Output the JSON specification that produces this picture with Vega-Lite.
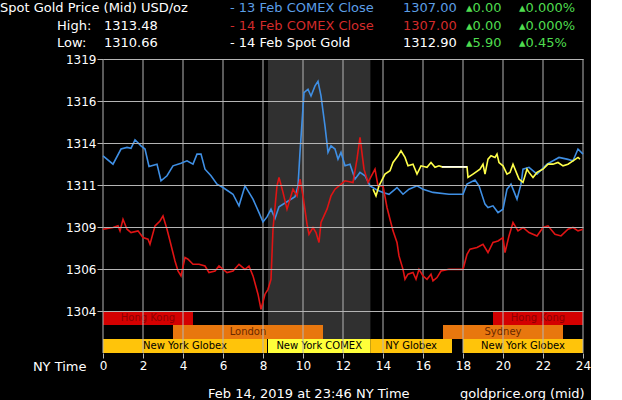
{
  "$schema": "https://vega.github.io/schema/vega-lite/v6.json",
  "background": "#000000",
  "padding": 0,
  "spacing": 0,
  "config": {"view": {"stroke": null}, "font": "DejaVu Sans"},
  "vconcat": [
    {
      "width": 480,
      "height": 53,
      "data": {"values": [
        {"line": "1", "col": 0, "kind": "title", "text": "Spot Gold Price (Mid) USD/oz"},
        {"line": "1", "col": 3, "kind": "13feb", "text": "- 13 Feb COMEX Close"},
        {"line": "1", "col": 4, "kind": "13feb", "text": "1307.00"},
        {"line": "1", "col": 5, "kind": "up", "text": "▴0.00"},
        {"line": "1", "col": 6, "kind": "up", "text": "▴0.000%"},
        {"line": "2", "col": 1, "kind": "title", "text": "High:"},
        {"line": "2", "col": 2, "kind": "title", "text": "1313.48"},
        {"line": "2", "col": 3, "kind": "14feb", "text": "- 14 Feb COMEX Close"},
        {"line": "2", "col": 4, "kind": "14feb", "text": "1307.00"},
        {"line": "2", "col": 5, "kind": "up", "text": "▴0.00"},
        {"line": "2", "col": 6, "kind": "up", "text": "▴0.000%"},
        {"line": "3", "col": 1, "kind": "title", "text": "Low:"},
        {"line": "3", "col": 2, "kind": "title", "text": "1310.66"},
        {"line": "3", "col": 3, "kind": "spot", "text": "- 14 Feb Spot Gold"},
        {"line": "3", "col": 4, "kind": "spot", "text": "1312.90"},
        {"line": "3", "col": 5, "kind": "up", "text": "▴5.90"},
        {"line": "3", "col": 6, "kind": "up", "text": "▴0.45%"}
      ]},
      "mark": {"type": "text", "align": "left", "baseline": "middle", "fontSize": 13},
      "encoding": {
        "x": {"field": "col", "type": "quantitative", "scale": {"domain": [0, 1, 2, 3, 4, 5, 6], "range": [-103, -46, 1, 127, 300, 363, 416], "nice": false, "zero": false}, "axis": null},
        "y": {"field": "line", "type": "ordinal", "scale": {"range": [8, 43], "padding": 0}, "axis": null},
        "text": {"field": "text"},
        "color": {"field": "kind", "type": "nominal", "scale": {"domain": ["title", "13feb", "14feb", "spot", "up"], "range": ["#ffffff", "#5c9ee6", "#d22b2b", "#ffffff", "#4fdc4f"]}, "legend": null}
      }
    },
    {
      "width": 480,
      "height": 294,
      "layer": [
        {
          "data": {"values": [{"period": "COMEX", "start": 8.25, "end": 13.37}]},
          "mark": {"type": "rect", "color": "#303030"},
          "encoding": {
            "x": {"field": "start", "type": "quantitative", "scale": {"domain": [0, 24], "nice": false},
              "axis": {"values": [0, 2, 4, 6, 8, 10, 12, 14, 16, 18, 20, 22, 24], "title": "NY Time", "grid": false, "domain": false, "tickColor": "#b4b4b4", "tickSize": 5, "labelColor": "#ffffff", "labelFontSize": 12, "labelPadding": 2, "labelFlush": false, "titleColor": "#ffffff", "titleFontSize": 13, "titleFontWeight": "normal", "titleX": -17, "titleY": 13, "titleAlign": "right", "titleBaseline": "middle"}},
            "x2": {"field": "end"}
          }
        },
        {
          "data": {"values": [
            {"session": "Hong Kong", "start": 0, "end": 4.5, "lane": "top", "kind": "hk"},
            {"session": "Hong Kong", "start": 19.5, "end": 24, "lane": "top", "kind": "hk"},
            {"session": "London", "start": 3.5, "end": 11, "lane": "mid", "kind": "ldn"},
            {"session": "Sydney", "start": 17, "end": 23, "lane": "mid", "kind": "syd"},
            {"session": "New York Globex", "start": 0, "end": 8.2, "lane": "bottom", "kind": "globex"},
            {"session": "New York COMEX", "start": 8.25, "end": 13.37, "lane": "bottom", "kind": "comex"},
            {"session": "NY Globex", "start": 13.37, "end": 17.45, "lane": "bottom", "kind": "globex"},
            {"session": "New York Globex", "start": 18, "end": 24, "lane": "bottom", "kind": "globex"}
          ]},
          "layer": [
            {
              "mark": {"type": "rect"},
              "encoding": {
                "x": {"field": "start", "type": "quantitative",
                  "axis": {"values": [0, 2, 4, 6, 8, 10, 12, 14, 16, 18, 20, 22, 24], "title": "NY Time", "grid": false, "domain": false, "tickColor": "#b4b4b4", "tickSize": 5, "labelColor": "#ffffff", "labelFontSize": 12, "labelPadding": 2, "labelFlush": false, "titleColor": "#ffffff", "titleFontSize": 13, "titleFontWeight": "normal", "titleX": -17, "titleY": 13, "titleAlign": "right", "titleBaseline": "middle"}},
                "x2": {"field": "end"},
                "y": {"field": "lane", "type": "ordinal", "scale": {"domain": ["top", "mid", "bottom"], "range": [252, 294], "paddingInner": 0, "paddingOuter": 0}, "axis": null},
                "color": {"field": "kind", "type": "nominal", "scale": {"domain": ["hk", "ldn", "syd", "globex", "comex"], "range": ["#d40000", "#e8770e", "#e8770e", "#ffc40a", "#ffff3a"]}, "legend": null}
              }
            },
            {
              "transform": [{"calculate": "(datum.start + datum.end) / 2", "as": "mid"}],
              "mark": {"type": "text", "fontSize": 10, "baseline": "middle", "align": "center"},
              "encoding": {
                "x": {"field": "mid", "type": "quantitative",
                  "axis": {"values": [0, 2, 4, 6, 8, 10, 12, 14, 16, 18, 20, 22, 24], "title": "NY Time", "grid": false, "domain": false, "tickColor": "#b4b4b4", "tickSize": 5, "labelColor": "#ffffff", "labelFontSize": 12, "labelPadding": 2, "labelFlush": false, "titleColor": "#ffffff", "titleFontSize": 13, "titleFontWeight": "normal", "titleX": -17, "titleY": 13, "titleAlign": "right", "titleBaseline": "middle"}},
                "y": {"field": "lane", "type": "ordinal", "axis": null},
                "text": {"field": "session"},
                "color": {"condition": [{"test": "datum.kind == 'hk'", "value": "#8a0000"}, {"test": "datum.kind == 'ldn' || datum.kind == 'syd'", "value": "#6a2800"}], "value": "#000000"}
              }
            }
          ]
        },
        {
          "data": {"values": [
            {"hour": 0}, {"hour": 2}, {"hour": 4}, {"hour": 6}, {"hour": 8}, {"hour": 10}, {"hour": 12},
            {"hour": 14}, {"hour": 16}, {"hour": 18}, {"hour": 20}, {"hour": 22}, {"hour": 24}
          ]},
          "mark": {"type": "rule", "color": "#b4b4b4", "strokeWidth": 1},
          "encoding": {
            "x": {"field": "hour", "type": "quantitative",
              "axis": {"values": [0, 2, 4, 6, 8, 10, 12, 14, 16, 18, 20, 22, 24], "title": "NY Time", "grid": false, "domain": false, "tickColor": "#b4b4b4", "tickSize": 5, "labelColor": "#ffffff", "labelFontSize": 12, "labelPadding": 2, "labelFlush": false, "titleColor": "#ffffff", "titleFontSize": 13, "titleFontWeight": "normal", "titleX": -17, "titleY": 13, "titleAlign": "right", "titleBaseline": "middle"}}
          }
        },
        {
          "data": {"values": [
            {"series": "13 Feb COMEX", "hour": 0, "price": 1313.24},
            {"series": "13 Feb COMEX", "hour": 0.5, "price": 1312.74},
            {"series": "13 Feb COMEX", "hour": 0.9, "price": 1313.64},
            {"series": "13 Feb COMEX", "hour": 1.2, "price": 1313.74},
            {"series": "13 Feb COMEX", "hour": 1.4, "price": 1313.68},
            {"series": "13 Feb COMEX", "hour": 1.6, "price": 1314.19},
            {"series": "13 Feb COMEX", "hour": 1.9, "price": 1313.83},
            {"series": "13 Feb COMEX", "hour": 2.1, "price": 1313.64},
            {"series": "13 Feb COMEX", "hour": 2.3, "price": 1312.6},
            {"series": "13 Feb COMEX", "hour": 2.7, "price": 1312.74},
            {"series": "13 Feb COMEX", "hour": 2.9, "price": 1311.75},
            {"series": "13 Feb COMEX", "hour": 3.2, "price": 1312.05},
            {"series": "13 Feb COMEX", "hour": 3.5, "price": 1312.64},
            {"series": "13 Feb COMEX", "hour": 3.9, "price": 1312.8},
            {"series": "13 Feb COMEX", "hour": 4.2, "price": 1312.94},
            {"series": "13 Feb COMEX", "hour": 4.5, "price": 1312.74},
            {"series": "13 Feb COMEX", "hour": 4.7, "price": 1313.34},
            {"series": "13 Feb COMEX", "hour": 4.9, "price": 1313.34},
            {"series": "13 Feb COMEX", "hour": 5.1, "price": 1312.44},
            {"series": "13 Feb COMEX", "hour": 5.4, "price": 1312.05},
            {"series": "13 Feb COMEX", "hour": 5.7, "price": 1311.55},
            {"series": "13 Feb COMEX", "hour": 6.0, "price": 1311.35},
            {"series": "13 Feb COMEX", "hour": 6.5, "price": 1310.95},
            {"series": "13 Feb COMEX", "hour": 6.8, "price": 1310.26},
            {"series": "13 Feb COMEX", "hour": 7.1, "price": 1311.45},
            {"series": "13 Feb COMEX", "hour": 7.5, "price": 1310.66},
            {"series": "13 Feb COMEX", "hour": 7.8, "price": 1309.86},
            {"series": "13 Feb COMEX", "hour": 8.0, "price": 1309.3},
            {"series": "13 Feb COMEX", "hour": 8.2, "price": 1309.6},
            {"series": "13 Feb COMEX", "hour": 8.4, "price": 1310.06},
            {"series": "13 Feb COMEX", "hour": 8.6, "price": 1309.5},
            {"series": "13 Feb COMEX", "hour": 8.8, "price": 1310.2},
            {"series": "13 Feb COMEX", "hour": 9.2, "price": 1310.5},
            {"series": "13 Feb COMEX", "hour": 9.6, "price": 1310.8},
            {"series": "13 Feb COMEX", "hour": 9.75, "price": 1311.45},
            {"series": "13 Feb COMEX", "hour": 9.85, "price": 1313.44},
            {"series": "13 Feb COMEX", "hour": 10.05, "price": 1317.0},
            {"series": "13 Feb COMEX", "hour": 10.25, "price": 1317.2},
            {"series": "13 Feb COMEX", "hour": 10.4, "price": 1316.8},
            {"series": "13 Feb COMEX", "hour": 10.6, "price": 1317.4},
            {"series": "13 Feb COMEX", "hour": 10.75, "price": 1317.67},
            {"series": "13 Feb COMEX", "hour": 10.9, "price": 1316.8},
            {"series": "13 Feb COMEX", "hour": 11.1, "price": 1315.0},
            {"series": "13 Feb COMEX", "hour": 11.25, "price": 1313.44},
            {"series": "13 Feb COMEX", "hour": 11.4, "price": 1313.83},
            {"series": "13 Feb COMEX", "hour": 11.6, "price": 1313.64},
            {"series": "13 Feb COMEX", "hour": 11.75, "price": 1313.04},
            {"series": "13 Feb COMEX", "hour": 11.9, "price": 1313.44},
            {"series": "13 Feb COMEX", "hour": 12.1, "price": 1312.64},
            {"series": "13 Feb COMEX", "hour": 12.35, "price": 1312.74},
            {"series": "13 Feb COMEX", "hour": 12.6, "price": 1311.85},
            {"series": "13 Feb COMEX", "hour": 12.85, "price": 1312.25},
            {"series": "13 Feb COMEX", "hour": 13.1, "price": 1312.05},
            {"series": "13 Feb COMEX", "hour": 13.35, "price": 1311.45},
            {"series": "13 Feb COMEX", "hour": 13.7, "price": 1311.2},
            {"series": "13 Feb COMEX", "hour": 14.0, "price": 1311.06},
            {"series": "13 Feb COMEX", "hour": 14.3, "price": 1310.95},
            {"series": "13 Feb COMEX", "hour": 14.7, "price": 1311.35},
            {"series": "13 Feb COMEX", "hour": 15.0, "price": 1310.95},
            {"series": "13 Feb COMEX", "hour": 15.3, "price": 1311.25},
            {"series": "13 Feb COMEX", "hour": 15.7, "price": 1311.45},
            {"series": "13 Feb COMEX", "hour": 16.0, "price": 1311.25},
            {"series": "13 Feb COMEX", "hour": 16.5, "price": 1311.06},
            {"series": "13 Feb COMEX", "hour": 17.3, "price": 1310.95},
            {"series": "13 Feb COMEX", "hour": 18.0, "price": 1310.95},
            {"series": "13 Feb COMEX", "hour": 18.2, "price": 1311.55},
            {"series": "13 Feb COMEX", "hour": 18.6, "price": 1311.8},
            {"series": "13 Feb COMEX", "hour": 18.8, "price": 1311.45},
            {"series": "13 Feb COMEX", "hour": 19.1, "price": 1310.36},
            {"series": "13 Feb COMEX", "hour": 19.25, "price": 1310.16},
            {"series": "13 Feb COMEX", "hour": 19.5, "price": 1310.26},
            {"series": "13 Feb COMEX", "hour": 19.75, "price": 1309.86},
            {"series": "13 Feb COMEX", "hour": 20.0, "price": 1310.06},
            {"series": "13 Feb COMEX", "hour": 20.2, "price": 1311.25},
            {"series": "13 Feb COMEX", "hour": 20.4, "price": 1311.55},
            {"series": "13 Feb COMEX", "hour": 20.7, "price": 1310.66},
            {"series": "13 Feb COMEX", "hour": 20.9, "price": 1311.55},
            {"series": "13 Feb COMEX", "hour": 21.0, "price": 1312.44},
            {"series": "13 Feb COMEX", "hour": 21.3, "price": 1312.55},
            {"series": "13 Feb COMEX", "hour": 21.7, "price": 1312.15},
            {"series": "13 Feb COMEX", "hour": 22.2, "price": 1312.74},
            {"series": "13 Feb COMEX", "hour": 22.8, "price": 1313.14},
            {"series": "13 Feb COMEX", "hour": 23.2, "price": 1313.04},
            {"series": "13 Feb COMEX", "hour": 23.5, "price": 1312.94},
            {"series": "13 Feb COMEX", "hour": 23.75, "price": 1313.64},
            {"series": "13 Feb COMEX", "hour": 24, "price": 1313.34},
            {"series": "14 Feb COMEX", "hour": 0, "price": 1308.87},
            {"series": "14 Feb COMEX", "hour": 0.5, "price": 1308.97},
            {"series": "14 Feb COMEX", "hour": 0.75, "price": 1309.07},
            {"series": "14 Feb COMEX", "hour": 0.85, "price": 1308.77},
            {"series": "14 Feb COMEX", "hour": 1.0, "price": 1309.46},
            {"series": "14 Feb COMEX", "hour": 1.2, "price": 1308.87},
            {"series": "14 Feb COMEX", "hour": 1.4, "price": 1308.67},
            {"series": "14 Feb COMEX", "hour": 1.75, "price": 1308.77},
            {"series": "14 Feb COMEX", "hour": 2.0, "price": 1308.37},
            {"series": "14 Feb COMEX", "hour": 2.25, "price": 1308.27},
            {"series": "14 Feb COMEX", "hour": 2.35, "price": 1307.97},
            {"series": "14 Feb COMEX", "hour": 2.6, "price": 1309.07},
            {"series": "14 Feb COMEX", "hour": 2.85, "price": 1309.36},
            {"series": "14 Feb COMEX", "hour": 3.0, "price": 1309.66},
            {"series": "14 Feb COMEX", "hour": 3.2, "price": 1308.87},
            {"series": "14 Feb COMEX", "hour": 3.35, "price": 1308.17},
            {"series": "14 Feb COMEX", "hour": 3.6, "price": 1306.98},
            {"series": "14 Feb COMEX", "hour": 3.75, "price": 1306.38},
            {"series": "14 Feb COMEX", "hour": 3.9, "price": 1306.09},
            {"series": "14 Feb COMEX", "hour": 4.1, "price": 1307.18},
            {"series": "14 Feb COMEX", "hour": 4.25, "price": 1307.08},
            {"series": "14 Feb COMEX", "hour": 4.5, "price": 1306.78},
            {"series": "14 Feb COMEX", "hour": 4.8, "price": 1306.78},
            {"series": "14 Feb COMEX", "hour": 5.1, "price": 1306.68},
            {"series": "14 Feb COMEX", "hour": 5.3, "price": 1306.29},
            {"series": "14 Feb COMEX", "hour": 5.6, "price": 1306.38},
            {"series": "14 Feb COMEX", "hour": 5.8, "price": 1306.68},
            {"series": "14 Feb COMEX", "hour": 6.2, "price": 1306.29},
            {"series": "14 Feb COMEX", "hour": 6.5, "price": 1306.38},
            {"series": "14 Feb COMEX", "hour": 6.8, "price": 1306.78},
            {"series": "14 Feb COMEX", "hour": 7.1, "price": 1306.48},
            {"series": "14 Feb COMEX", "hour": 7.3, "price": 1306.68},
            {"series": "14 Feb COMEX", "hour": 7.5, "price": 1306.09},
            {"series": "14 Feb COMEX", "hour": 7.75, "price": 1305.0},
            {"series": "14 Feb COMEX", "hour": 7.9, "price": 1304.1},
            {"series": "14 Feb COMEX", "hour": 8.1, "price": 1305.0},
            {"series": "14 Feb COMEX", "hour": 8.25, "price": 1305.29},
            {"series": "14 Feb COMEX", "hour": 8.4, "price": 1305.89},
            {"series": "14 Feb COMEX", "hour": 8.5, "price": 1308.87},
            {"series": "14 Feb COMEX", "hour": 8.7, "price": 1311.45},
            {"series": "14 Feb COMEX", "hour": 8.8, "price": 1311.95},
            {"series": "14 Feb COMEX", "hour": 9.0, "price": 1311.06},
            {"series": "14 Feb COMEX", "hour": 9.2, "price": 1310.06},
            {"series": "14 Feb COMEX", "hour": 9.35, "price": 1310.66},
            {"series": "14 Feb COMEX", "hour": 9.5, "price": 1311.25},
            {"series": "14 Feb COMEX", "hour": 9.7, "price": 1310.85},
            {"series": "14 Feb COMEX", "hour": 9.85, "price": 1311.85},
            {"series": "14 Feb COMEX", "hour": 10.0, "price": 1310.85},
            {"series": "14 Feb COMEX", "hour": 10.2, "price": 1309.17},
            {"series": "14 Feb COMEX", "hour": 10.3, "price": 1308.57},
            {"series": "14 Feb COMEX", "hour": 10.5, "price": 1308.97},
            {"series": "14 Feb COMEX", "hour": 10.65, "price": 1308.67},
            {"series": "14 Feb COMEX", "hour": 10.8, "price": 1308.08},
            {"series": "14 Feb COMEX", "hour": 10.9, "price": 1309.27},
            {"series": "14 Feb COMEX", "hour": 11.2, "price": 1310.06},
            {"series": "14 Feb COMEX", "hour": 11.4, "price": 1310.85},
            {"series": "14 Feb COMEX", "hour": 11.6, "price": 1311.25},
            {"series": "14 Feb COMEX", "hour": 11.8, "price": 1311.45},
            {"series": "14 Feb COMEX", "hour": 12.1, "price": 1311.75},
            {"series": "14 Feb COMEX", "hour": 12.5, "price": 1311.65},
            {"series": "14 Feb COMEX", "hour": 12.7, "price": 1313.04},
            {"series": "14 Feb COMEX", "hour": 12.85, "price": 1314.33},
            {"series": "14 Feb COMEX", "hour": 13.05, "price": 1312.44},
            {"series": "14 Feb COMEX", "hour": 13.25, "price": 1311.65},
            {"series": "14 Feb COMEX", "hour": 13.6, "price": 1312.44},
            {"series": "14 Feb COMEX", "hour": 13.75, "price": 1311.45},
            {"series": "14 Feb COMEX", "hour": 14.0, "price": 1311.45},
            {"series": "14 Feb COMEX", "hour": 14.2, "price": 1310.16},
            {"series": "14 Feb COMEX", "hour": 14.35, "price": 1309.46},
            {"series": "14 Feb COMEX", "hour": 14.5, "price": 1308.77},
            {"series": "14 Feb COMEX", "hour": 14.7, "price": 1308.08},
            {"series": "14 Feb COMEX", "hour": 14.8, "price": 1307.28},
            {"series": "14 Feb COMEX", "hour": 15.0, "price": 1306.48},
            {"series": "14 Feb COMEX", "hour": 15.1, "price": 1305.89},
            {"series": "14 Feb COMEX", "hour": 15.25, "price": 1306.19},
            {"series": "14 Feb COMEX", "hour": 15.5, "price": 1306.29},
            {"series": "14 Feb COMEX", "hour": 15.65, "price": 1305.89},
            {"series": "14 Feb COMEX", "hour": 15.8, "price": 1306.48},
            {"series": "14 Feb COMEX", "hour": 16.0, "price": 1306.09},
            {"series": "14 Feb COMEX", "hour": 16.2, "price": 1305.89},
            {"series": "14 Feb COMEX", "hour": 16.4, "price": 1306.19},
            {"series": "14 Feb COMEX", "hour": 16.5, "price": 1305.79},
            {"series": "14 Feb COMEX", "hour": 16.7, "price": 1305.99},
            {"series": "14 Feb COMEX", "hour": 16.9, "price": 1306.38},
            {"series": "14 Feb COMEX", "hour": 17.3, "price": 1306.48},
            {"series": "14 Feb COMEX", "hour": 18.0, "price": 1306.48},
            {"series": "14 Feb COMEX", "hour": 18.2, "price": 1307.38},
            {"series": "14 Feb COMEX", "hour": 18.35, "price": 1307.68},
            {"series": "14 Feb COMEX", "hour": 18.7, "price": 1307.78},
            {"series": "14 Feb COMEX", "hour": 19.0, "price": 1307.97},
            {"series": "14 Feb COMEX", "hour": 19.25, "price": 1307.48},
            {"series": "14 Feb COMEX", "hour": 19.5, "price": 1308.08},
            {"series": "14 Feb COMEX", "hour": 19.75, "price": 1308.17},
            {"series": "14 Feb COMEX", "hour": 20.0, "price": 1308.37},
            {"series": "14 Feb COMEX", "hour": 20.1, "price": 1307.48},
            {"series": "14 Feb COMEX", "hour": 20.3, "price": 1308.47},
            {"series": "14 Feb COMEX", "hour": 20.5, "price": 1309.27},
            {"series": "14 Feb COMEX", "hour": 20.75, "price": 1308.77},
            {"series": "14 Feb COMEX", "hour": 21.0, "price": 1308.97},
            {"series": "14 Feb COMEX", "hour": 21.3, "price": 1308.67},
            {"series": "14 Feb COMEX", "hour": 21.7, "price": 1308.47},
            {"series": "14 Feb COMEX", "hour": 22.0, "price": 1308.97},
            {"series": "14 Feb COMEX", "hour": 22.25, "price": 1309.07},
            {"series": "14 Feb COMEX", "hour": 22.6, "price": 1308.57},
            {"series": "14 Feb COMEX", "hour": 22.9, "price": 1308.47},
            {"series": "14 Feb COMEX", "hour": 23.25, "price": 1308.87},
            {"series": "14 Feb COMEX", "hour": 23.5, "price": 1308.97},
            {"series": "14 Feb COMEX", "hour": 23.75, "price": 1308.77},
            {"series": "14 Feb COMEX", "hour": 24, "price": 1308.87},
            {"series": "14 Feb Spot", "hour": 13.5, "price": 1311.25},
            {"series": "14 Feb Spot", "hour": 13.65, "price": 1310.85},
            {"series": "14 Feb Spot", "hour": 13.8, "price": 1311.45},
            {"series": "14 Feb Spot", "hour": 14.1, "price": 1312.15},
            {"series": "14 Feb Spot", "hour": 14.35, "price": 1312.35},
            {"series": "14 Feb Spot", "hour": 14.5, "price": 1312.84},
            {"series": "14 Feb Spot", "hour": 14.75, "price": 1313.24},
            {"series": "14 Feb Spot", "hour": 14.9, "price": 1313.54},
            {"series": "14 Feb Spot", "hour": 15.1, "price": 1313.14},
            {"series": "14 Feb Spot", "hour": 15.25, "price": 1312.64},
            {"series": "14 Feb Spot", "hour": 15.5, "price": 1312.74},
            {"series": "14 Feb Spot", "hour": 15.7, "price": 1312.15},
            {"series": "14 Feb Spot", "hour": 15.9, "price": 1312.64},
            {"series": "14 Feb Spot", "hour": 16.2, "price": 1312.55},
            {"series": "14 Feb Spot", "hour": 16.4, "price": 1312.84},
            {"series": "14 Feb Spot", "hour": 16.6, "price": 1312.55},
            {"series": "14 Feb Spot", "hour": 16.8, "price": 1312.64},
            {"series": "14 Feb Spot", "hour": 16.95, "price": 1312.58},
            {"series": "14 Feb Spot", "hour": 18.2, "price": 1312.58},
            {"series": "14 Feb Spot", "hour": 18.25, "price": 1311.95},
            {"series": "14 Feb Spot", "hour": 18.5, "price": 1312.15},
            {"series": "14 Feb Spot", "hour": 18.85, "price": 1312.44},
            {"series": "14 Feb Spot", "hour": 19.0, "price": 1312.74},
            {"series": "14 Feb Spot", "hour": 19.1, "price": 1312.15},
            {"series": "14 Feb Spot", "hour": 19.25, "price": 1313.04},
            {"series": "14 Feb Spot", "hour": 19.4, "price": 1313.24},
            {"series": "14 Feb Spot", "hour": 19.6, "price": 1313.14},
            {"series": "14 Feb Spot", "hour": 19.7, "price": 1313.34},
            {"series": "14 Feb Spot", "hour": 19.8, "price": 1312.84},
            {"series": "14 Feb Spot", "hour": 20.0, "price": 1312.64},
            {"series": "14 Feb Spot", "hour": 20.2, "price": 1312.15},
            {"series": "14 Feb Spot", "hour": 20.35, "price": 1312.25},
            {"series": "14 Feb Spot", "hour": 20.5, "price": 1312.74},
            {"series": "14 Feb Spot", "hour": 20.7, "price": 1312.15},
            {"series": "14 Feb Spot", "hour": 20.8, "price": 1311.85},
            {"series": "14 Feb Spot", "hour": 21.0, "price": 1311.65},
            {"series": "14 Feb Spot", "hour": 21.2, "price": 1312.44},
            {"series": "14 Feb Spot", "hour": 21.3, "price": 1312.25},
            {"series": "14 Feb Spot", "hour": 21.5, "price": 1311.95},
            {"series": "14 Feb Spot", "hour": 21.7, "price": 1312.25},
            {"series": "14 Feb Spot", "hour": 22.0, "price": 1312.44},
            {"series": "14 Feb Spot", "hour": 22.25, "price": 1312.74},
            {"series": "14 Feb Spot", "hour": 22.5, "price": 1312.74},
            {"series": "14 Feb Spot", "hour": 22.75, "price": 1312.84},
            {"series": "14 Feb Spot", "hour": 23.0, "price": 1312.64},
            {"series": "14 Feb Spot", "hour": 23.25, "price": 1312.74},
            {"series": "14 Feb Spot", "hour": 23.5, "price": 1312.94},
            {"series": "14 Feb Spot", "hour": 23.75, "price": 1313.14},
            {"series": "14 Feb Spot", "hour": 23.85, "price": 1313.04},
            {"series": "Closed", "hour": 16.95, "price": 1312.58},
            {"series": "Closed", "hour": 18.2, "price": 1312.58}
          ]},
          "mark": {"type": "line", "strokeWidth": 1.6},
          "encoding": {
            "x": {"field": "hour", "type": "quantitative",
              "axis": {"values": [0, 2, 4, 6, 8, 10, 12, 14, 16, 18, 20, 22, 24], "title": "NY Time", "grid": false, "domain": false, "tickColor": "#b4b4b4", "tickSize": 5, "labelColor": "#ffffff", "labelFontSize": 12, "labelPadding": 2, "labelFlush": false, "titleColor": "#ffffff", "titleFontSize": 13, "titleFontWeight": "normal", "titleX": -17, "titleY": 13, "titleAlign": "right", "titleBaseline": "middle"}},
            "y": {"field": "price", "type": "quantitative", "scale": {"domain": [1301.5, 1319], "nice": false, "zero": false},
              "axis": {"values": [1304, 1306.5, 1309, 1311.5, 1314, 1316.5, 1319], "labelExpr": "floor(datum.value)", "title": null, "grid": true, "gridColor": "#b4b4b4", "gridOpacity": 1, "domain": false, "tickColor": "#b4b4b4", "tickSize": 6, "labelColor": "#ffffff", "labelFontSize": 12, "labelPadding": 1, "zindex": 1}},
            "color": {"field": "series", "type": "nominal", "scale": {"domain": ["13 Feb COMEX", "14 Feb COMEX", "14 Feb Spot", "Closed"], "range": ["#3f8fe4", "#e01414", "#ffff4a", "#ffffff"]}, "legend": null}
          }
        }
      ],
      "resolve": {"scale": {"y": "independent", "color": "independent"}}
    },
    {
      "width": 480,
      "height": 26,
      "data": {"values": [
        {"line": "1", "col": 0, "text": "Feb 14, 2019 at 23:46 NY Time"},
        {"line": "1", "col": 1, "text": "goldprice.org (mid)"}
      ]},
      "mark": {"type": "text", "align": "left", "baseline": "middle", "fontSize": 13, "color": "#ffffff"},
      "encoding": {
        "x": {"field": "col", "type": "quantitative", "scale": {"domain": [0, 1], "range": [105, 357], "nice": false, "zero": false}, "axis": null},
        "y": {"field": "line", "type": "ordinal", "scale": {"range": [21, 21]}, "axis": null},
        "text": {"field": "text"}
      }
    }
  ]
}
